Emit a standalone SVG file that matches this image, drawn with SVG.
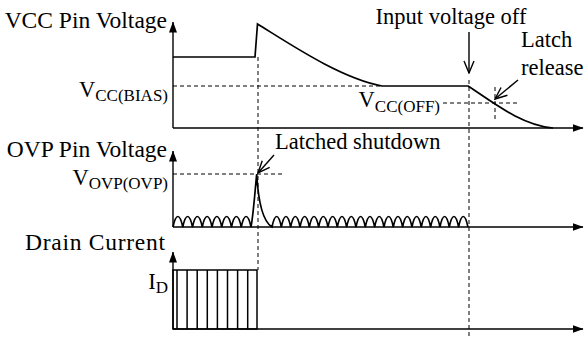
<svg xmlns="http://www.w3.org/2000/svg" width="585" height="338" viewBox="0 0 585 338">
<defs>
<marker id="ah" markerUnits="userSpaceOnUse" markerWidth="11" markerHeight="8" viewBox="0 0 11 8" refX="10.5" refY="4" orient="auto"><path d="M0,0 L11,4 L0,8 z" fill="#000"/></marker>
<marker id="open" markerUnits="userSpaceOnUse" markerWidth="14" markerHeight="12" viewBox="0 0 14 12" refX="13" refY="6" orient="auto"><path d="M1,1 L13,6 L1,11" fill="none" stroke="#000" stroke-width="1.4"/></marker>
</defs>
<style>
text{font-family:"Liberation Serif","Times New Roman",serif;font-size:22.5px;fill:#000}
.big{font-size:23.5px}
.sub{font-size:17px}
.axis{stroke:#000;stroke-width:1.4;fill:none}
.trace{stroke:#000;stroke-width:1.7;fill:none}
.dash{stroke:#000;stroke-width:1;stroke-dasharray:4,3;fill:none}
.ann{stroke:#000;stroke-width:1.4;fill:none;marker-end:url(#open)}
</style>
<rect width="585" height="338" fill="#fff"/>
<g id="panel-vcc">
<line class="axis" x1="173" y1="128" x2="173" y2="22" marker-end="url(#ah)"/>
<line class="axis" x1="173" y1="128" x2="583" y2="128" marker-end="url(#ah)"/>
<text class="big" x="167" y="28" text-anchor="end">VCC Pin Voltage</text>
<text x="168" y="97" text-anchor="end">V<tspan class="sub" dy="4">CC(BIAS)</tspan></text>
<line class="dash" x1="173" y1="86" x2="382" y2="86"/>
<path class="trace" d="M173,57 L255,57 L257.5,24 C290,44 340,78 382,86 L468,86 C490,100 520,125 553,128"/>
</g>
<g id="panel-ovp">
<line class="axis" x1="173" y1="227" x2="173" y2="151" marker-end="url(#ah)"/>
<line class="axis" x1="173" y1="227" x2="583" y2="227" marker-end="url(#ah)"/>
<text class="big" x="167" y="157" text-anchor="end">OVP Pin Voltage</text>
<text x="168" y="185" text-anchor="end">V<tspan class="sub" dy="4">OVP(OVP)</tspan></text>
<line class="dash" x1="173" y1="174" x2="285" y2="174"/>
<path class="trace" stroke-width="1.5" d="M173,227 c3,-14 6.75,-14 9.75,0 c3,-14 6.75,-14 9.75,0 c3,-14 6.75,-14 9.75,0 c3,-14 6.75,-14 9.75,0 c3,-14 6.75,-14 9.75,0 c3,-14 6.75,-14 9.75,0 c3,-14 6.75,-14 9.75,0 c3,-14 6.75,-14 9.75,0 C253.5,214 255.5,185 256.7,174 C258,197 262,221 272,227 c2.9,-14 6.43,-14 9.33,0 c2.9,-14 6.43,-14 9.33,0 c2.9,-14 6.43,-14 9.33,0 c2.9,-14 6.43,-14 9.33,0 c2.9,-14 6.43,-14 9.33,0 c2.9,-14 6.43,-14 9.33,0 c2.9,-14 6.43,-14 9.33,0 c2.9,-14 6.43,-14 9.33,0 c2.9,-14 6.43,-14 9.33,0 c2.9,-14 6.43,-14 9.33,0 c2.9,-14 6.43,-14 9.33,0 c2.9,-14 6.43,-14 9.33,0 c2.9,-14 6.43,-14 9.33,0 c2.9,-14 6.43,-14 9.33,0 c2.9,-14 6.43,-14 9.33,0 c2.9,-14 6.43,-14 9.33,0 c2.9,-14 6.43,-14 9.33,0 c2.9,-14 6.43,-14 9.33,0 c2.9,-14 6.43,-14 9.33,0 c2.9,-14 6.43,-14 9.33,0 c2.9,-14 6.43,-14 9.33,0"/>
</g>
<g id="panel-drain">
<line class="axis" x1="173" y1="329" x2="173" y2="252" marker-end="url(#ah)"/>
<line class="axis" x1="173" y1="329" x2="583" y2="329" marker-end="url(#ah)"/>
<text class="big" x="25" y="250" textLength="140" lengthAdjust="spacing">Drain Current</text>
<text x="168" y="289" text-anchor="end">I<tspan class="sub" dy="4">D</tspan></text>
<rect x="173" y="270" width="84" height="59" fill="none" stroke="#000" stroke-width="1.5"/>
<path stroke="#000" stroke-width="1.5" d="M177,270V329M187.1,270V329M197.2,270V329M207.3,270V329M217.4,270V329M227.5,270V329M237.6,270V329M247.7,270V329"/>
</g>
<g id="connectors">
<line class="dash" x1="258" y1="57" x2="258" y2="270"/>
<line class="dash" x1="469" y1="80" x2="469" y2="338"/>
<line class="dash" x1="443" y1="103" x2="517" y2="103"/>
<line class="dash" x1="495" y1="87" x2="495" y2="119"/>
<line class="ann" x1="469" y1="32" x2="469" y2="73"/>
<line class="ann" x1="518" y1="80" x2="495" y2="99"/>
<line class="ann" x1="274" y1="155" x2="258" y2="173"/>
</g>
<g id="labels">
<text x="451" y="24" text-anchor="middle">Input voltage off</text>
<text x="521" y="47">Latch</text>
<text x="521" y="75">release</text>
<text x="440" y="107" text-anchor="end">V<tspan class="sub" dy="5">CC(OFF)</tspan></text>
<text x="275" y="149">Latched shutdown</text>
</g>
</svg>
